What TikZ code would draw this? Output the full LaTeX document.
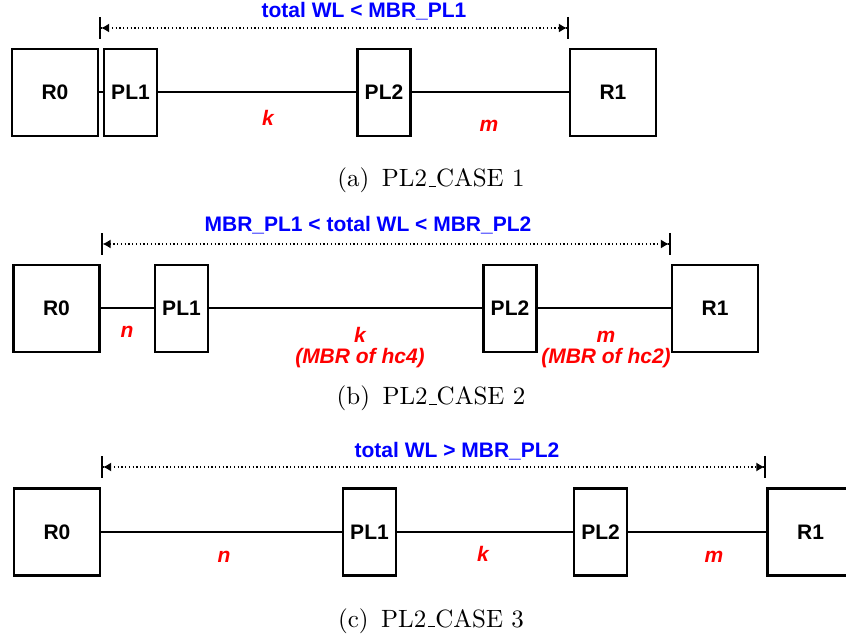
\documentclass[tikz,border=0pt]{standalone}
\usepackage{fontspec}
\usetikzlibrary{arrows.meta}
\newfontfamily\helv{Liberation Sans}
\newcommand\lowbar{\leavevmode\kern.06em\vbox{\hrule width.3em}}

\begin{document}
\begin{tikzpicture}[x=0.4pt,y=-0.4pt]
  % Define style for boxes and labels
  \tikzstyle{router} = [draw, rectangle, line width=.9pt, minimum width=34.4pt, minimum height=34.8pt, inner sep=0pt, font=\fontsize{8.4}{8.6}\helv\bfseries]
  \tikzstyle{plbox} = [router, minimum width=21.2pt]
  \tikzstyle{wire} = [line width=.8pt]
  \tikzstyle{dim} = [densely dotted, line width=.5pt,
    {Bar[width=8.8pt,line width=.8pt]Latex[length=3.2pt,width=3.6pt]}-{Latex[length=3.2pt,width=3.6pt]Bar[width=8.8pt,line width=.8pt]}]
  \tikzstyle{bound} = [anchor=base, inner sep=0pt, text=blue, font=\fontsize{8.4}{8.6}\helv\bfseries]
  \tikzstyle{len} = [anchor=base, inner sep=0pt, align=center, text=red, font=\fontsize{8.4}{8.6}\helv\bfseries\itshape]
  \tikzstyle{caption} = [anchor=base, inner sep=0pt]

  \useasboundingbox (0,0) rectangle (846,638);

  % (a) PL2_CASE 1
  \node (R0a)[router] at (55,92.5) {R0};
  \node (PL1a)[plbox] at (130.5,92.5) {PL1};
  \node (PL2a)[plbox] at (384,92.5) {PL2};
  \node (R1a)[router] at (613,92.5) {R1};
  \draw[wire] (R0a) -- (PL1a) -- (PL2a) -- (R1a);
  \draw[dim] (R0a.east |- 0,28) -- (R1a.west |- 0,28);
  \node (WLa)[bound] at (364,18) {total WL < MBR\_PL1};
  \node (ka)[len] at (268,126) {k};
  \node (ma)[len] at (489,132) {m};
  \node (capa)[caption] at (431,187) {(a)\enspace PL2\lowbar CASE 1};

  % (b) PL2_CASE 2
  \node (R0b)[router] at (56.5,308.5) {R0};
  \node (PL1b)[plbox] at (181.5,308.5) {PL1};
  \node (PL2b)[plbox] at (510,308.5) {PL2};
  \node (R1b)[router] at (715,308.5) {R1};
  \draw[wire] (R0b) -- (PL1b) -- (PL2b) -- (R1b);
  \draw[dim] (R0b.east |- 0,244) -- (R1b.west |- 0,244);
  \node (WLb)[bound] at (368,232) {MBR\_PL1 < total WL < MBR\_PL2};
  \node (nb)[len] at (127,338) {n};
  \node (kb)[len] at (360,364) {k\\(MBR of hc4)};
  \node (mb)[len] at (606,364) {m\\(MBR of hc2)};
  \node (capb)[caption] at (431,405) {(b)\enspace PL2\lowbar CASE 2};

  % (c) PL2_CASE 3
  \node (R0c)[router] at (57,532) {R0};
  \node (PL1c)[plbox] at (369.5,532) {PL1};
  \node (PL2c)[plbox] at (600.5,532) {PL2};
  \node (R1c)[router] at (810.5,532) {R1};
  \draw[wire] (R0c) -- (PL1c) -- (PL2c) -- (R1c);
  \draw[dim] (R0c.east |- 0,467) -- (R1c.west |- 0,467);
  \node (WLc)[bound] at (457,457) {total WL > MBR\_PL2};
  \node (nc)[len] at (224,562) {n};
  \node (kc)[len] at (483,561) {k};
  \node (mc)[len] at (714,562) {m};
  \node (capc)[caption] at (431,627) {(c)\enspace PL2\lowbar CASE 3};
\end{tikzpicture}
\end{document}
